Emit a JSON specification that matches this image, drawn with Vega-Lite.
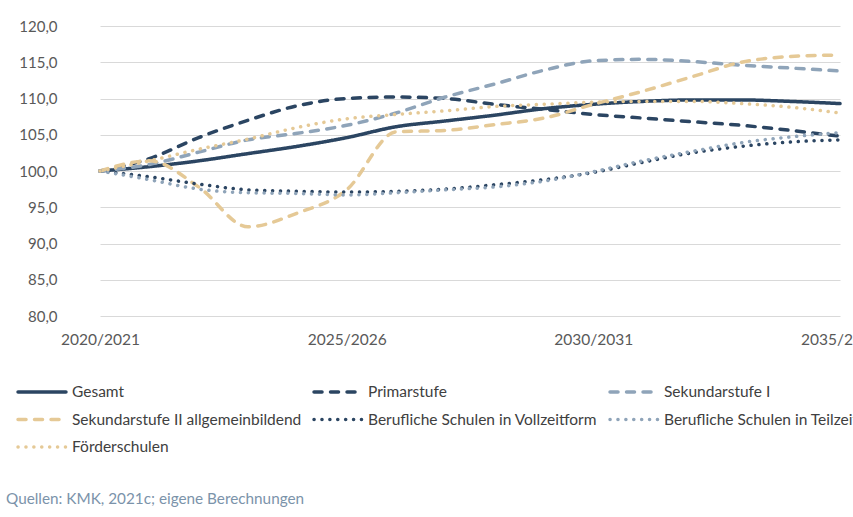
{
  "$schema": "https://vega.github.io/schema/vega-lite/v6.json",
  "autosize": {"type": "none"},
  "padding": {"left": 77, "top": 26, "right": 0, "bottom": 201},
  "width": 776,
  "height": 290,
  "background": "white",
  "config": {
    "font": "Lato",
    "view": {"stroke": null}
  },
  "title": {
    "text": "Quellen: KMK, 2021c; eigene Berechnungen",
    "orient": "bottom",
    "anchor": "start",
    "frame": "group",
    "dx": -71,
    "offset": 36,
    "fontSize": 15.3,
    "fontWeight": "normal",
    "color": "#7b93aa",
    "font": "Lato"
  },
  "data": {
    "values": [
      {"Schuljahr": "2020/2021", "Reihe": "Gesamt", "Wert": 100},
      {"Schuljahr": "2021/2022", "Reihe": "Gesamt", "Wert": 100.6},
      {"Schuljahr": "2022/2023", "Reihe": "Gesamt", "Wert": 101.4},
      {"Schuljahr": "2023/2024", "Reihe": "Gesamt", "Wert": 102.4},
      {"Schuljahr": "2024/2025", "Reihe": "Gesamt", "Wert": 103.4},
      {"Schuljahr": "2025/2026", "Reihe": "Gesamt", "Wert": 104.6},
      {"Schuljahr": "2026/2027", "Reihe": "Gesamt", "Wert": 106.1},
      {"Schuljahr": "2027/2028", "Reihe": "Gesamt", "Wert": 106.9},
      {"Schuljahr": "2028/2029", "Reihe": "Gesamt", "Wert": 107.7},
      {"Schuljahr": "2029/2030", "Reihe": "Gesamt", "Wert": 108.6},
      {"Schuljahr": "2030/2031", "Reihe": "Gesamt", "Wert": 109.2},
      {"Schuljahr": "2031/2032", "Reihe": "Gesamt", "Wert": 109.6},
      {"Schuljahr": "2032/2033", "Reihe": "Gesamt", "Wert": 109.8},
      {"Schuljahr": "2033/2034", "Reihe": "Gesamt", "Wert": 109.8},
      {"Schuljahr": "2034/2035", "Reihe": "Gesamt", "Wert": 109.6},
      {"Schuljahr": "2035/2036", "Reihe": "Gesamt", "Wert": 109.3},

      {"Schuljahr": "2020/2021", "Reihe": "Primarstufe", "Wert": 100},
      {"Schuljahr": "2021/2022", "Reihe": "Primarstufe", "Wert": 101.7},
      {"Schuljahr": "2022/2023", "Reihe": "Primarstufe", "Wert": 104.6},
      {"Schuljahr": "2023/2024", "Reihe": "Primarstufe", "Wert": 107.0},
      {"Schuljahr": "2024/2025", "Reihe": "Primarstufe", "Wert": 109.0},
      {"Schuljahr": "2025/2026", "Reihe": "Primarstufe", "Wert": 110.0},
      {"Schuljahr": "2026/2027", "Reihe": "Primarstufe", "Wert": 110.2},
      {"Schuljahr": "2027/2028", "Reihe": "Primarstufe", "Wert": 110.0},
      {"Schuljahr": "2028/2029", "Reihe": "Primarstufe", "Wert": 109.2},
      {"Schuljahr": "2029/2030", "Reihe": "Primarstufe", "Wert": 108.5},
      {"Schuljahr": "2030/2031", "Reihe": "Primarstufe", "Wert": 107.8},
      {"Schuljahr": "2031/2032", "Reihe": "Primarstufe", "Wert": 107.3},
      {"Schuljahr": "2032/2033", "Reihe": "Primarstufe", "Wert": 106.8},
      {"Schuljahr": "2033/2034", "Reihe": "Primarstufe", "Wert": 106.3},
      {"Schuljahr": "2034/2035", "Reihe": "Primarstufe", "Wert": 105.6},
      {"Schuljahr": "2035/2036", "Reihe": "Primarstufe", "Wert": 104.8},

      {"Schuljahr": "2020/2021", "Reihe": "Sekundarstufe I", "Wert": 100},
      {"Schuljahr": "2021/2022", "Reihe": "Sekundarstufe I", "Wert": 100.9},
      {"Schuljahr": "2022/2023", "Reihe": "Sekundarstufe I", "Wert": 102.6},
      {"Schuljahr": "2023/2024", "Reihe": "Sekundarstufe I", "Wert": 104.3},
      {"Schuljahr": "2024/2025", "Reihe": "Sekundarstufe I", "Wert": 105.2},
      {"Schuljahr": "2025/2026", "Reihe": "Sekundarstufe I", "Wert": 106.3},
      {"Schuljahr": "2026/2027", "Reihe": "Sekundarstufe I", "Wert": 108.0},
      {"Schuljahr": "2027/2028", "Reihe": "Sekundarstufe I", "Wert": 110.2},
      {"Schuljahr": "2028/2029", "Reihe": "Sekundarstufe I", "Wert": 112.0},
      {"Schuljahr": "2029/2030", "Reihe": "Sekundarstufe I", "Wert": 113.9},
      {"Schuljahr": "2030/2031", "Reihe": "Sekundarstufe I", "Wert": 115.2},
      {"Schuljahr": "2031/2032", "Reihe": "Sekundarstufe I", "Wert": 115.4},
      {"Schuljahr": "2032/2033", "Reihe": "Sekundarstufe I", "Wert": 115.1},
      {"Schuljahr": "2033/2034", "Reihe": "Sekundarstufe I", "Wert": 114.6},
      {"Schuljahr": "2034/2035", "Reihe": "Sekundarstufe I", "Wert": 114.2},
      {"Schuljahr": "2035/2036", "Reihe": "Sekundarstufe I", "Wert": 113.8},

      {"Schuljahr": "2020/2021", "Reihe": "Sekundarstufe II allgemeinbildend", "Wert": 100},
      {"Schuljahr": "2021/2022", "Reihe": "Sekundarstufe II allgemeinbildend", "Wert": 101.4},
      {"Schuljahr": "2022/2023", "Reihe": "Sekundarstufe II allgemeinbildend", "Wert": 97.8},
      {"Schuljahr": "2023/2024", "Reihe": "Sekundarstufe II allgemeinbildend", "Wert": 92.3},
      {"Schuljahr": "2024/2025", "Reihe": "Sekundarstufe II allgemeinbildend", "Wert": 94.2},
      {"Schuljahr": "2025/2026", "Reihe": "Sekundarstufe II allgemeinbildend", "Wert": 97.4},
      {"Schuljahr": "2026/2027", "Reihe": "Sekundarstufe II allgemeinbildend", "Wert": 105.4},
      {"Schuljahr": "2027/2028", "Reihe": "Sekundarstufe II allgemeinbildend", "Wert": 105.6},
      {"Schuljahr": "2028/2029", "Reihe": "Sekundarstufe II allgemeinbildend", "Wert": 106.4},
      {"Schuljahr": "2029/2030", "Reihe": "Sekundarstufe II allgemeinbildend", "Wert": 107.3},
      {"Schuljahr": "2030/2031", "Reihe": "Sekundarstufe II allgemeinbildend", "Wert": 109.2},
      {"Schuljahr": "2031/2032", "Reihe": "Sekundarstufe II allgemeinbildend", "Wert": 111.0},
      {"Schuljahr": "2032/2033", "Reihe": "Sekundarstufe II allgemeinbildend", "Wert": 113.0},
      {"Schuljahr": "2033/2034", "Reihe": "Sekundarstufe II allgemeinbildend", "Wert": 115.0},
      {"Schuljahr": "2034/2035", "Reihe": "Sekundarstufe II allgemeinbildend", "Wert": 115.8},
      {"Schuljahr": "2035/2036", "Reihe": "Sekundarstufe II allgemeinbildend", "Wert": 116.0},

      {"Schuljahr": "2020/2021", "Reihe": "Berufliche Schulen in Vollzeitform", "Wert": 100},
      {"Schuljahr": "2021/2022", "Reihe": "Berufliche Schulen in Vollzeitform", "Wert": 99.2},
      {"Schuljahr": "2022/2023", "Reihe": "Berufliche Schulen in Vollzeitform", "Wert": 98.2},
      {"Schuljahr": "2023/2024", "Reihe": "Berufliche Schulen in Vollzeitform", "Wert": 97.4},
      {"Schuljahr": "2024/2025", "Reihe": "Berufliche Schulen in Vollzeitform", "Wert": 97.2},
      {"Schuljahr": "2025/2026", "Reihe": "Berufliche Schulen in Vollzeitform", "Wert": 97.1},
      {"Schuljahr": "2026/2027", "Reihe": "Berufliche Schulen in Vollzeitform", "Wert": 97.2},
      {"Schuljahr": "2027/2028", "Reihe": "Berufliche Schulen in Vollzeitform", "Wert": 97.5},
      {"Schuljahr": "2028/2029", "Reihe": "Berufliche Schulen in Vollzeitform", "Wert": 98.1},
      {"Schuljahr": "2029/2030", "Reihe": "Berufliche Schulen in Vollzeitform", "Wert": 98.8},
      {"Schuljahr": "2030/2031", "Reihe": "Berufliche Schulen in Vollzeitform", "Wert": 99.8},
      {"Schuljahr": "2031/2032", "Reihe": "Berufliche Schulen in Vollzeitform", "Wert": 101.2},
      {"Schuljahr": "2032/2033", "Reihe": "Berufliche Schulen in Vollzeitform", "Wert": 102.5},
      {"Schuljahr": "2033/2034", "Reihe": "Berufliche Schulen in Vollzeitform", "Wert": 103.4},
      {"Schuljahr": "2034/2035", "Reihe": "Berufliche Schulen in Vollzeitform", "Wert": 104.0},
      {"Schuljahr": "2035/2036", "Reihe": "Berufliche Schulen in Vollzeitform", "Wert": 104.3},

      {"Schuljahr": "2020/2021", "Reihe": "Berufliche Schulen in Teilzeitform", "Wert": 100},
      {"Schuljahr": "2021/2022", "Reihe": "Berufliche Schulen in Teilzeitform", "Wert": 98.8},
      {"Schuljahr": "2022/2023", "Reihe": "Berufliche Schulen in Teilzeitform", "Wert": 97.5},
      {"Schuljahr": "2023/2024", "Reihe": "Berufliche Schulen in Teilzeitform", "Wert": 97.0},
      {"Schuljahr": "2024/2025", "Reihe": "Berufliche Schulen in Teilzeitform", "Wert": 96.9},
      {"Schuljahr": "2025/2026", "Reihe": "Berufliche Schulen in Teilzeitform", "Wert": 96.7},
      {"Schuljahr": "2026/2027", "Reihe": "Berufliche Schulen in Teilzeitform", "Wert": 97.0},
      {"Schuljahr": "2027/2028", "Reihe": "Berufliche Schulen in Teilzeitform", "Wert": 97.4},
      {"Schuljahr": "2028/2029", "Reihe": "Berufliche Schulen in Teilzeitform", "Wert": 97.8},
      {"Schuljahr": "2029/2030", "Reihe": "Berufliche Schulen in Teilzeitform", "Wert": 98.6},
      {"Schuljahr": "2030/2031", "Reihe": "Berufliche Schulen in Teilzeitform", "Wert": 99.9},
      {"Schuljahr": "2031/2032", "Reihe": "Berufliche Schulen in Teilzeitform", "Wert": 101.4},
      {"Schuljahr": "2032/2033", "Reihe": "Berufliche Schulen in Teilzeitform", "Wert": 102.7},
      {"Schuljahr": "2033/2034", "Reihe": "Berufliche Schulen in Teilzeitform", "Wert": 103.9},
      {"Schuljahr": "2034/2035", "Reihe": "Berufliche Schulen in Teilzeitform", "Wert": 104.7},
      {"Schuljahr": "2035/2036", "Reihe": "Berufliche Schulen in Teilzeitform", "Wert": 105.3},

      {"Schuljahr": "2020/2021", "Reihe": "Förderschulen", "Wert": 100},
      {"Schuljahr": "2021/2022", "Reihe": "Förderschulen", "Wert": 101.4},
      {"Schuljahr": "2022/2023", "Reihe": "Förderschulen", "Wert": 103.0},
      {"Schuljahr": "2023/2024", "Reihe": "Förderschulen", "Wert": 104.4},
      {"Schuljahr": "2024/2025", "Reihe": "Förderschulen", "Wert": 106.0},
      {"Schuljahr": "2025/2026", "Reihe": "Förderschulen", "Wert": 107.2},
      {"Schuljahr": "2026/2027", "Reihe": "Förderschulen", "Wert": 107.8},
      {"Schuljahr": "2027/2028", "Reihe": "Förderschulen", "Wert": 108.3},
      {"Schuljahr": "2028/2029", "Reihe": "Förderschulen", "Wert": 108.9},
      {"Schuljahr": "2029/2030", "Reihe": "Förderschulen", "Wert": 109.2},
      {"Schuljahr": "2030/2031", "Reihe": "Förderschulen", "Wert": 109.5},
      {"Schuljahr": "2031/2032", "Reihe": "Förderschulen", "Wert": 109.6},
      {"Schuljahr": "2032/2033", "Reihe": "Förderschulen", "Wert": 109.6},
      {"Schuljahr": "2033/2034", "Reihe": "Förderschulen", "Wert": 109.3},
      {"Schuljahr": "2034/2035", "Reihe": "Förderschulen", "Wert": 108.8},
      {"Schuljahr": "2035/2036", "Reihe": "Förderschulen", "Wert": 108.0}
    ]
  },
  "mark": {
    "type": "line",
    "interpolate": "monotone",
    "strokeWidth": 3.5,
    "strokeCap": "round"
  },
  "encoding": {
    "x": {
      "field": "Schuljahr",
      "type": "ordinal",
      "scale": {"type": "point", "range": [23, 763], "padding": 0},
      "axis": {
        "title": null,
        "values": ["2020/2021", "2025/2026", "2030/2031", "2035/2036"],
        "labelAngle": 0,
        "labelFontSize": 15.5,
        "labelColor": "#595959",
        "labelPadding": 16,
        "domain": false,
        "ticks": false,
        "grid": false
      }
    },
    "y": {
      "field": "Wert",
      "type": "quantitative",
      "scale": {"domain": [80, 120], "nice": false, "zero": false},
      "axis": {
        "title": null,
        "values": [80, 85, 90, 95, 100, 105, 110, 115, 120],
        "labelExpr": "replace(format(datum.value, '.1f'), '.', ',')",
        "labelFontSize": 15,
        "labelColor": "#595959",
        "labelPadding": 20,
        "domain": false,
        "ticks": false,
        "gridColor": "#d9d9d9",
        "gridWidth": 1.2
      }
    },
    "color": {
      "field": "Reihe",
      "type": "nominal",
      "sort": ["Gesamt", "Primarstufe", "Sekundarstufe I", "Sekundarstufe II allgemeinbildend", "Berufliche Schulen in Vollzeitform", "Berufliche Schulen in Teilzeitform", "Förderschulen"],
      "scale": {
        "domain": ["Gesamt", "Primarstufe", "Sekundarstufe I", "Sekundarstufe II allgemeinbildend", "Berufliche Schulen in Vollzeitform", "Berufliche Schulen in Teilzeitform", "Förderschulen"],
        "range": ["#2b4562", "#2b4562", "#8fa4b9", "#e5c996", "#2b4562", "#8fa4b9", "#e5c996"]
      },
      "legend": {
        "title": null,
        "orient": "none",
        "legendX": -61,
        "legendY": 357,
        "direction": "horizontal",
        "columns": 3,
        "gridAlign": "all",
        "padding": 0,
        "symbolType": "stroke",
        "symbolSize": 2300,
        "symbolStrokeWidth": 3.5,
        "clipHeight": 18,
        "labelFontSize": 15.5,
        "labelColor": "#404040",
        "labelOffset": 4,
        "labelLimit": 400,
        "rowPadding": 9.5,
        "columnPadding": 10,
        "encode": {"symbols": {"update": {"strokeCap": {"value": "round"}}}}
      }
    },
    "strokeDash": {
      "field": "Reihe",
      "type": "nominal",
      "sort": ["Gesamt", "Primarstufe", "Sekundarstufe I", "Sekundarstufe II allgemeinbildend", "Berufliche Schulen in Vollzeitform", "Berufliche Schulen in Teilzeitform", "Förderschulen"],
      "scale": {
        "domain": ["Gesamt", "Primarstufe", "Sekundarstufe I", "Sekundarstufe II allgemeinbildend", "Berufliche Schulen in Vollzeitform", "Berufliche Schulen in Teilzeitform", "Förderschulen"],
        "range": [[1, 0], [8, 8.5], [8, 8.5], [8, 8.5], [0.1, 7.8], [0.1, 7.8], [0.1, 7.8]]
      },
      "legend": null
    }
  }
}
